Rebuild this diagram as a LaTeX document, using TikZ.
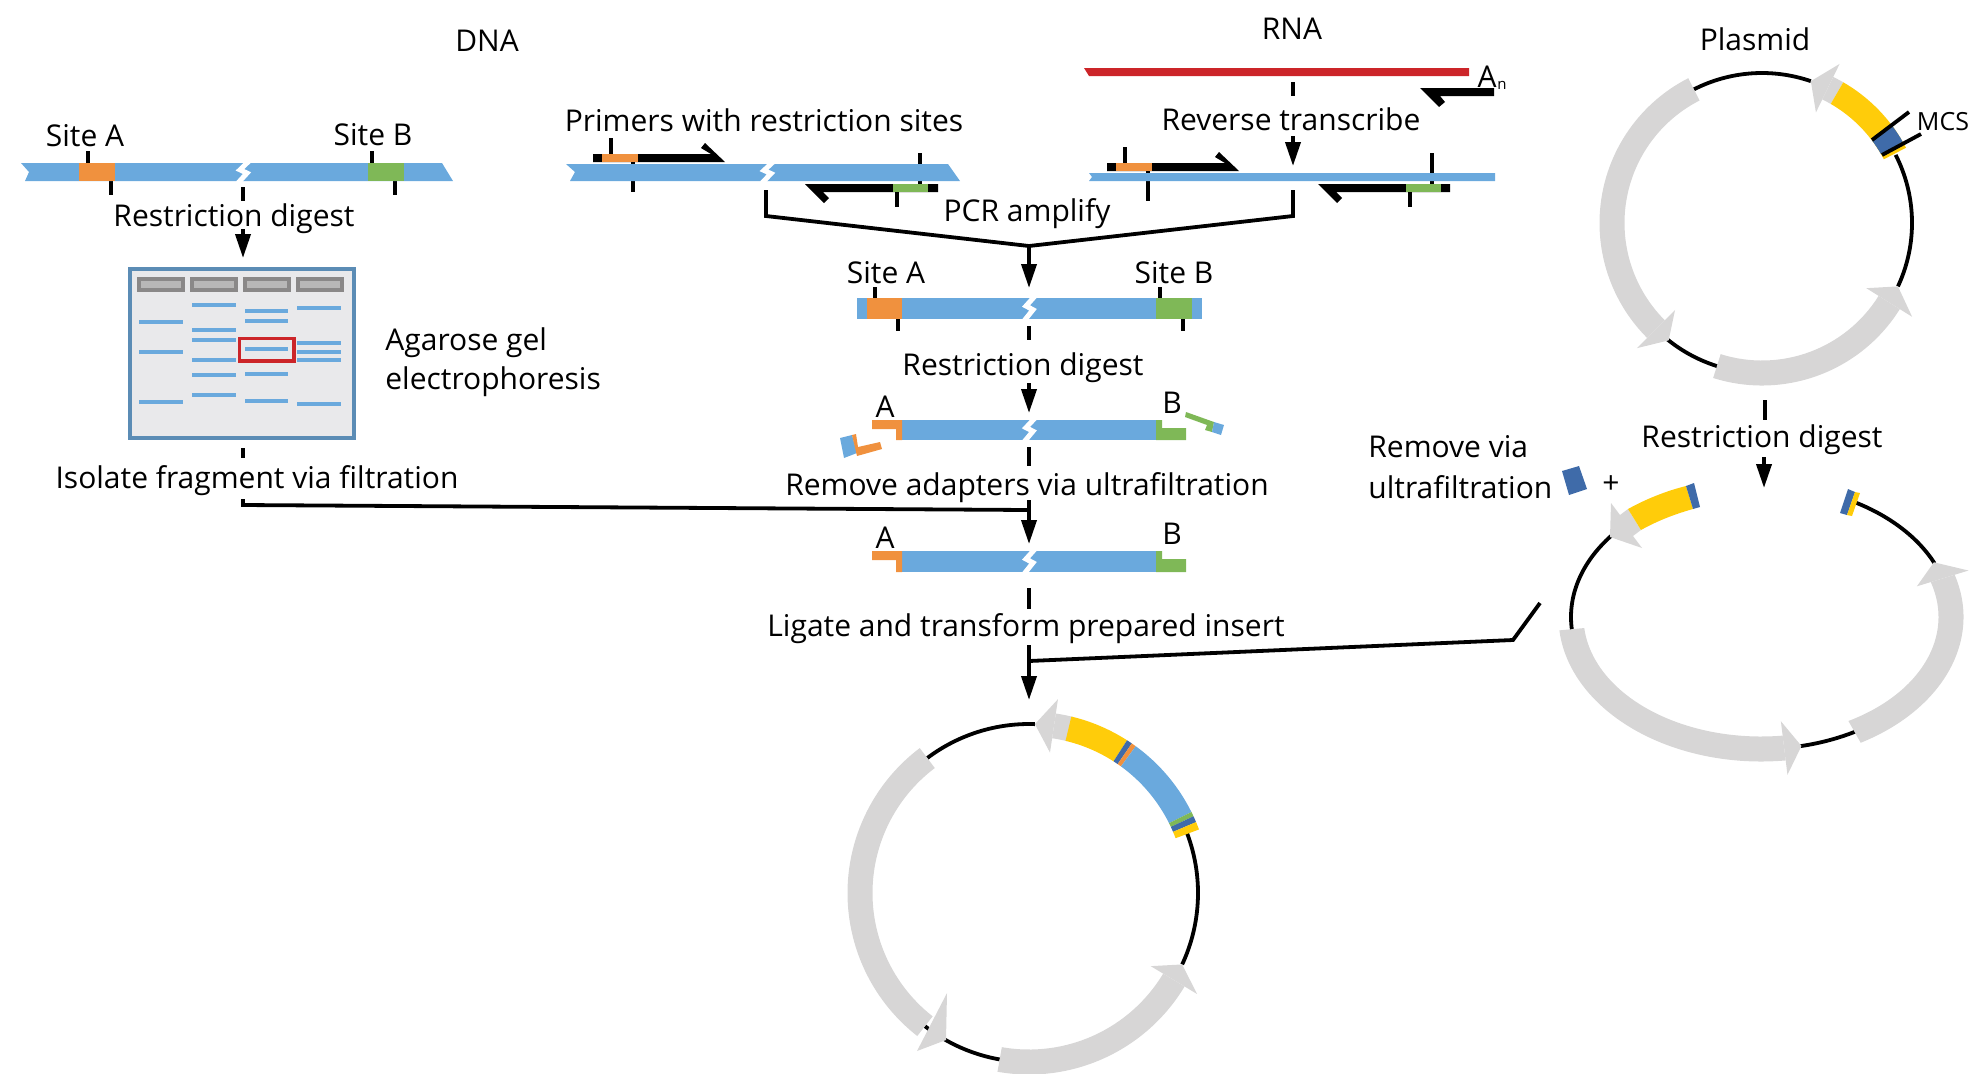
\documentclass[tikz,border=0pt]{standalone}
\usepackage{fontspec}
\setmainfont{Open Sans}
\usetikzlibrary{arrows.meta}

\definecolor{dnablue}{HTML}{6AA9DD}
\definecolor{siteorange}{HTML}{F0913E}
\definecolor{sitegreen}{HTML}{7FB857}
\definecolor{mcsyellow}{HTML}{FFCC0A}
\definecolor{mcsblue}{HTML}{3F6BA9}
\definecolor{ringgrey}{HTML}{D7D6D6}
\definecolor{rnared}{HTML}{CC2529}
\definecolor{gelframe}{HTML}{5B8CB5}
\definecolor{gelfill}{HTML}{E9E9EB}
\definecolor{wellrim}{HTML}{8A8888}
\definecolor{wellfill}{HTML}{B8B7B7}

\tikzset{
    lbl/.style={inner sep=0pt, yshift=-0.5pt, font=\fontsize{15}{18}\selectfont},
    tick/.style={black, line width=1.9pt},
    flow/.style={black, line width=1.9pt, -{Triangle[length=12pt,width=7.5pt]}},
    rule/.style={black, line width=1.9pt},
    dashpart/.style={black, line width=1.9pt},
    gap/.style={white, line width=2.5pt},
    backbone/.style={black, line width=1.9pt},
    band/.style={dnablue, line width=2pt},
    well/.style={draw=wellrim, fill=wellfill, line width=2pt}
}

% ring helpers, radii in px
\newcommand{\setring}[2]{\def\Rx{#1}\def\Ry{#2}%
    \pgfmathsetmacro{\Rxo}{#1+12.5}\pgfmathsetmacro{\Ryo}{#2+12.5}%
    \pgfmathsetmacro{\Rxi}{#1-12.5}\pgfmathsetmacro{\Ryi}{#2-12.5}%
    \pgfmathsetmacro{\Rxh}{#1+27}\pgfmathsetmacro{\Ryh}{#2+27}%
    \pgfmathsetmacro{\Rxj}{#1-27}\pgfmathsetmacro{\Ryj}{#2-27}}
\newcommand{\ringband}[3]{\fill[#1] (#2:{\Rxo} and {\Ryo}) arc[start angle=#2,end angle=#3,x radius=\Rxo,y radius=\Ryo]
    -- (#3:{\Rxi} and {\Ryi}) arc[start angle=#3,end angle=#2,x radius=\Rxi,y radius=\Ryi] -- cycle;}
\newcommand{\ringarrow}[2]{\fill[ringgrey] (#1:{\Rxh} and {\Ryh}) -- (#2:{\Rx} and {\Ry}) -- (#1:{\Rxj} and {\Ryj}) -- cycle;}
\newcommand{\ringline}[2]{\draw[backbone] (#1:{\Rx} and {\Ry}) arc[start angle=#1,end angle=#2,x radius=\Rx,y radius=\Ry];}
% white break in a strand
\newcommand{\strandgap}[3]{\draw[gap] ({#1+6},#2) -- ({#1-3},{#2+0.4*(#3-#2)}) -- ({#1+4},{#2+0.55*(#3-#2)}) -- ({#1-5},#3);}

\begin{document}
\begin{tikzpicture}[x=0.5pt, y=-0.5pt]
    \useasboundingbox (0,0) rectangle (1982,1073);

    % Column titles
    \node[lbl] (titleDNA) at (487,40) {DNA};
    \node[lbl] (titleRNA) at (1292,28) {RNA};
    \node[lbl] (titlePlasmid) at (1755,38.5) {Plasmid};

    % DNA strand on the left
    \draw[tick] (88,151) -- (88,163);
    \draw[tick] (111,181) -- (111,195);
    \draw[tick] (372,151) -- (372,163);
    \draw[tick] (395,181) -- (395,195);
    \fill[dnablue] (21,163) -- (442,163) -- (453,181) -- (25,181) -- (29,172) -- cycle;
    \fill[siteorange] (79,163) rectangle (115,181);
    \fill[sitegreen] (368,163) rectangle (404,181);
    \strandgap{243}{161}{183}
    \node[lbl] (siteA1) at (85,135) {Site A};
    \node[lbl] (siteB1) at (373,134) {Site B};
    \node[lbl] (digest1) at (234,218) {Restriction digest};

    % Gel
    \draw[draw=gelframe, fill=gelfill, line width=2pt] (130,269) rectangle (354,438);
    \foreach \x in {137,190,243,296}
        \draw[well] (\x+2,279) rectangle (\x+46,290);
    \foreach \y in {322,352,402}
        \draw[band] (139,\y) -- (183,\y);
    \foreach \y in {305,330,340,360,375,395}
        \draw[band] (192,\y) -- (236,\y);
    \foreach \y in {311,321,349,374,401}
        \draw[band] (245,\y) -- (288,\y);
    \foreach \y in {308,343,352,360,404}
        \draw[band] (297,\y) -- (341,\y);
    \draw[draw=rnared, line width=1.8pt] (239.5,338.5) rectangle (294,361);
    \node[lbl, anchor=west] (gel1) at (385,341.5) {Agarose gel};
    \node[lbl, anchor=west] (gel2) at (385,380.5) {electrophoresis};
    \node[lbl] (isolate) at (257,480) {Isolate fragment via filtration};

    % Primers on DNA
    \node[lbl] (primers) at (764,119.5) {Primers with restriction sites};
    \draw[tick] (611,138) -- (611,154);
    \draw[tick] (633,162) -- (633,192);
    \draw[tick] (920,153) -- (920,184);
    \draw[tick] (897,192) -- (897,207);
    \fill[dnablue] (566,164) -- (948,164) -- (960,181) -- (570,181) -- (575,172) -- cycle;
    \strandgap{767}{162}{183}
    \fill[black] (593,154) -- (711,154) -- (701,148) -- (705,143) -- (725,162) -- (593,162) -- cycle;
    \fill[siteorange] (602,154) rectangle (638,162);
    \fill[black] (805,184) -- (938,184) -- (938,192) -- (823,192) -- (829,198) -- (824,203) -- cycle;
    \fill[sitegreen] (893,184) rectangle (928,192);

    % RNA and reverse transcription
    \fill[rnared] (1084,68) -- (1469,68) -- (1469,76) -- (1089,76) -- cycle;
    \node[lbl] (polyA) at (1487,76) {A};
    \node[inner sep=0pt, font=\fontsize{7.5}{9}\selectfont] (polyAn) at (1502,85) {n};
    \fill[black] (1420,88) -- (1494,88) -- (1494,96) -- (1440,96) -- (1445,102) -- (1439,107) -- cycle;
    \node[lbl] (revtrans) at (1291,118) {Reverse transcribe};
    \draw[tick] (1125,147) -- (1125,163);
    \draw[tick] (1148,171) -- (1148,201);
    \draw[tick] (1432,153) -- (1432,184);
    \draw[tick] (1410,192) -- (1410,207);
    \fill[dnablue] (1089,173) -- (1495,173) -- (1495,181) -- (1089,181) -- (1092,177) -- cycle;
    \fill[black] (1107,163) -- (1225,163) -- (1215,157) -- (1219,152) -- (1239,171) -- (1107,171) -- cycle;
    \fill[siteorange] (1116,163) rectangle (1152,171);
    \fill[black] (1318,184) -- (1450,184) -- (1450,192) -- (1336,192) -- (1342,198) -- (1337,203) -- cycle;
    \fill[sitegreen] (1406,184) rectangle (1441,192);

    % PCR junction
    \node[lbl] (pcr) at (1027,212.5) {PCR amplify};
    \coordinate (pcrL) at (766,190);
    \coordinate (pcrLb) at (766,216);
    \coordinate (pcrJoin) at (1029,246);
    \coordinate (pcrRb) at (1293,216);
    \coordinate (pcrR) at (1293,190);
    \draw[rule, line join=miter] (pcrL) -- (pcrLb) -- (pcrJoin) -- (pcrRb) -- (pcrR);

    % Insert with both sites
    \node[lbl] (siteA2) at (886,272) {Site A};
    \node[lbl] (siteB2) at (1174,272) {Site B};
    \draw[tick] (875,287) -- (875,298);
    \draw[tick] (898,319) -- (898,331);
    \draw[tick] (1160,287) -- (1160,298);
    \draw[tick] (1183,319) -- (1183,331);
    \fill[dnablue] (857,298) rectangle (1202,319);
    \fill[siteorange] (867,298) rectangle (902,319);
    \fill[sitegreen] (1156,298) rectangle (1192,319);
    \strandgap{1029}{296}{321}
    \node[lbl] (digest2) at (1023,366.5) {Restriction digest};

    % Cut insert with the removed ends
    \node[lbl] (endA1) at (885,406) {A};
    \node[lbl] (endB1) at (1172,402) {B};
    \fill[dnablue] (902,420) rectangle (1156,440);
    \fill[siteorange] (872,420) -- (902,420) -- (902,440) -- (896,440) -- (896,429) -- (872,429) -- cycle;
    \fill[sitegreen] (1156,420) -- (1162,420) -- (1162,428) -- (1186,428) -- (1186,440) -- (1156,440) -- cycle;
    \strandgap{1029}{418}{442}
    \fill[dnablue] (840,438) -- (852,435) -- (857,453) -- (844,458) -- cycle;
    \fill[siteorange] (852,435) -- (856,434) -- (858,447) -- (880,442) -- (882,449) -- (857,456) -- cycle;
    \fill[sitegreen] (1186,412) -- (1214,422) -- (1212,432) -- (1205,430) -- (1207,425) -- (1185,417) -- cycle;
    \fill[dnablue] (1214,422) -- (1224,425) -- (1221,435) -- (1212,432) -- cycle;
    \node[lbl] (ultra) at (1027,486.5) {Remove adapters via ultrafiltration};

    % Prepared insert
    \node[lbl] (endA2) at (885,537) {A};
    \node[lbl] (endB2) at (1172,533) {B};
    \fill[dnablue] (902,551) rectangle (1156,572);
    \fill[siteorange] (872,551) -- (902,551) -- (902,572) -- (896,572) -- (896,560) -- (872,560) -- cycle;
    \fill[sitegreen] (1156,551) -- (1162,551) -- (1162,559) -- (1186,559) -- (1186,572) -- (1156,572) -- cycle;
    \strandgap{1029}{549}{574}
    \node[lbl] (ligate) at (1026,627.5) {Ligate and transform prepared insert};

    % Define connector ends
    \coordinate (dnaOut) at (243,187);
    \coordinate (dnaOutEnd) at (243,201);
    \coordinate (gelIn) at (243,229);
    \coordinate (gelInEnd) at (243,258);
    \coordinate (gelOut) at (243,448);
    \coordinate (gelOutEnd) at (243,458);
    \coordinate (fragStart) at (243,499);
    \coordinate (fragBend) at (243,505);
    \coordinate (fragEnd) at (1029,510);
    \coordinate (rnaOut) at (1293,82);
    \coordinate (rnaOutEnd) at (1293,96);
    \coordinate (cdnaIn) at (1293,136);
    \coordinate (cdnaInEnd) at (1293,166);
    \coordinate (insertIn) at (1029,288);
    \coordinate (cutOut) at (1029,326);
    \coordinate (cutOutEnd) at (1029,340);
    \coordinate (cutIn) at (1029,383);
    \coordinate (cutInEnd) at (1029,413);
    \coordinate (cleanOut) at (1029,447);
    \coordinate (cleanOutEnd) at (1029,466);
    \coordinate (cleanIn) at (1029,500);
    \coordinate (cleanInEnd) at (1029,544);
    \coordinate (prepOut) at (1029,588);
    \coordinate (prepOutEnd) at (1029,609);
    \coordinate (ligIn) at (1029,645);
    \coordinate (ligJoin) at (1029,661);
    \coordinate (ligEnd) at (1029,700);
    \coordinate (vecBend) at (1513,640);
    \coordinate (vecStart) at (1540,603);
    \coordinate (plasOut) at (1765,400);
    \coordinate (plasOutEnd) at (1765,420);
    \coordinate (plasIn) at (1764,457);
    \coordinate (plasInEnd) at (1764,488);

    % Define connectors
    \draw[dashpart] (dnaOut) -- (dnaOutEnd);
    \draw[flow] (gelIn) -- (gelInEnd);
    \draw[dashpart] (gelOut) -- (gelOutEnd);
    \draw[rule] (fragStart) -- (fragBend) -- (fragEnd);
    \draw[dashpart] (rnaOut) -- (rnaOutEnd);
    \draw[flow] (cdnaIn) -- (cdnaInEnd);
    \draw[flow] (pcrJoin) -- (insertIn);
    \draw[dashpart] (cutOut) -- (cutOutEnd);
    \draw[flow] (cutIn) -- (cutInEnd);
    \draw[dashpart] (cleanOut) -- (cleanOutEnd);
    \draw[flow] (cleanIn) -- (cleanInEnd);
    \draw[dashpart] (prepOut) -- (prepOutEnd);
    \draw[flow] (ligIn) -- (ligEnd);
    \draw[rule] (ligJoin) -- (vecBend) -- (vecStart);
    \draw[dashpart] (plasOut) -- (plasOutEnd);
    \draw[flow] (plasIn) -- (plasInEnd);

    % Starting plasmid
    \begin{scope}[shift={(1762,223)}, y=0.5pt]
        \setring{150}{150}
        \ringline{335}{387}
        \ringline{71}{117}
        \ringline{231}{253}
        \ringband{ringgrey}{117}{225}
        \ringarrow{225}{231.5}
        \ringband{ringgrey}{252.5}{328}
        \ringarrow{328}{335}
        \ringband{ringgrey}{60}{64}
        \ringarrow{64}{71}
        \ringband{mcsyellow}{27.6}{60}
        \ringband{mcsblue}{30}{37}
    \end{scope}
    \coordinate (mcsA) at (1872,140);
    \coordinate (mcsAEnd) at (1909,112);
    \coordinate (mcsB) at (1882,155);
    \coordinate (mcsBEnd) at (1921,134);
    \draw[tick] (mcsA) -- (mcsAEnd);
    \draw[tick] (mcsB) -- (mcsBEnd);
    \node[lbl, font=\fontsize{12.5}{15}\selectfont] (mcs) at (1943,121) {MCS};

    % Cut plasmid
    \begin{scope}[shift={(1761,617)}, y=0.5pt]
        \setring{190}{132}
        \ringline{142}{186}
        \ringline{282}{300}
        \ringline{24}{60}
        \ringband{ringgrey}{185.3}{277}
        \ringarrow{277}{282.3}
        \ringband{ringgrey}{299.5}{377}
        \ringarrow{377}{384.5}
    \end{scope}
    \fill[ringgrey] (1610,537) -- (1642,548) -- (1633,536) -- (1641,530) -- (1628,509) -- (1620,515) -- (1611,503) -- cycle;
    \fill[mcsyellow] (1628,509) .. controls (1646,499) and (1666,491) .. (1686,486) -- (1693,509) .. controls (1675,514) and (1657,521) .. (1641,530) -- cycle;
    \fill[mcsblue] (1686,486) -- (1694,483) -- (1700,507) -- (1693,509) -- cycle;
    \fill[mcsblue] (1848,489) -- (1855,492) -- (1847,515) -- (1840,513) -- cycle;
    \fill[mcsyellow] (1855,492) -- (1860,493) -- (1852,516) -- (1847,515) -- cycle;
    \fill[mcsblue] (1562,471) -- (1579,466) -- (1587,489) -- (1569,495) -- cycle;
    \node[lbl] (plus) at (1611,484) {+};
    \node[lbl, anchor=west] (removeA) at (1368,446) {Remove via};
    \node[lbl, anchor=west] (removeB) at (1368,486) {ultrafiltration};
    \node[lbl] (digest3) at (1762,438.5) {Restriction digest};

    % Final plasmid
    \begin{scope}[shift={(1029,893)}, y=0.5pt]
        \setring{169}{169}
        \ringline{335}{381}
        \ringline{88}{127}
        \ringline{232}{260}
        \ringband{ringgrey}{127}{232}
        \ringband{ringgrey}{260}{329}
        \ringarrow{329}{335}
        \ringband{ringgrey}{76}{81.5}
        \ringarrow{81.5}{88}
        \ringband{mcsyellow}{57.3}{76.5}
        \ringband{mcsblue}{55.5}{57.3}
        \ringband{siteorange}{54}{55.5}
        \ringband{dnablue}{26.5}{54}
        \ringband{sitegreen}{25}{26.5}
        \ringband{mcsblue}{23}{25}
        \ringband{mcsyellow}{20.5}{23}
    \end{scope}
    \fill[ringgrey] (947,993) -- (946,1040) -- (917,1051) -- cycle;
\end{tikzpicture}
\end{document}
